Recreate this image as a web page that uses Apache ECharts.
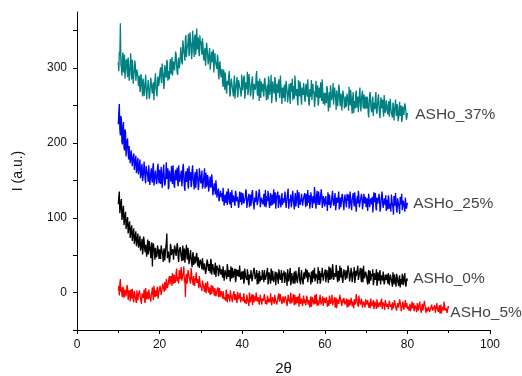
<!DOCTYPE html>
<html>
<head>
<meta charset="utf-8">
<script src="https://cdn.jsdelivr.net/npm/echarts@6/dist/echarts.min.js"></script>
<style>
  html, body { margin: 0; padding: 0; background: #fff; }
  #chart { width: 522px; height: 376px; }
</style>
</head>
<body>
<div id="chart"></div>
<script>
// scan grid: 2-theta from 10 deg. "even" readings every 0.25 deg,
// "odd" readings sit halfway between them (10.125, 10.375, ...)
const scanStart = 10;
const scanStep = 0.25;

// ASHo_37% (10 - 80)
const asho37 = [
  308, 322, 360, 301, 315, 294, 318, 299, 312, 288, 305, 296, 320, 285, 302, 291, 310, 283, 298, 289,
  281, 268, 292, 274, 286, 263, 279, 290, 270, 284, 259, 277, 288, 266, 281, 272, 293, 268, 284, 276,
  289, 301, 280, 296, 272, 304, 290, 311, 283, 298, 306, 292, 315, 288, 303, 296, 318, 294, 309, 300,
  312, 326, 305, 331, 318, 340, 315, 329, 346, 320, 335, 312, 350, 327, 341, 318, 353, 330, 322, 344,
  336, 318, 330, 310, 327, 314, 332, 305, 320, 298, 316, 308, 325, 296, 311, 302, 318, 290, 306, 295,
  292, 280, 298, 271, 286, 266, 283, 290, 262, 279, 285, 268, 281, 259, 276, 288, 266, 280, 272, 262,
  283, 268, 290, 265, 279, 295, 270, 284, 262, 277, 289, 266, 281, 274, 296, 263, 278, 286, 260, 275,
  279, 262, 287, 268, 275, 258, 283, 270, 291, 261, 276, 266, 284, 255, 272, 280, 263, 290, 268, 274,
  260, 278, 265, 285, 254, 271, 262, 280, 268, 257, 276, 290, 263, 272, 250, 269, 282, 259, 274, 264,
  271, 255, 279, 262, 268, 250, 274, 284, 258, 266, 248, 270, 261, 277, 253, 265, 281, 256, 268, 259,
  250, 267, 276, 255, 263, 247, 271, 258, 280, 252, 266, 244, 269, 261, 274, 249, 263, 255, 272, 246,
  262, 251, 268, 243, 258, 271, 249, 260, 240, 256, 266, 247, 262, 253, 274, 242, 257, 250, 265, 245,
  255, 262, 240, 251, 268, 244, 257, 236, 253, 261, 242, 250, 265, 238, 255, 246, 258, 235, 252, 244,
  250, 238, 256, 233, 246, 241, 254, 230, 247, 239, 252, 229, 244, 236, 250, 232, 245, 238, 249, 231, 240
];
const asho37Odd = [
  296, 317, 305, 290, 321, 300, 286, 309, 297, 314, 283, 301, 292, 311, 279, 296, 304, 285, 293, 276,
  290, 273, 284, 262, 280, 269, 291, 258, 275, 283, 264, 287, 271, 278, 257, 285, 274, 262, 289, 280,
  297, 284, 306, 291, 277, 299, 287, 308, 296, 285, 312, 300, 290, 309, 297, 322, 303, 291, 314, 305,
  328, 308, 337, 322, 310, 344, 325, 334, 316, 348, 331, 322, 339, 315, 345, 334, 325, 341, 316, 333,
  324, 340, 315, 322, 303, 334, 318, 311, 327, 300, 322, 313, 294, 320, 306, 299, 313, 285, 309, 288,
  299, 275, 288, 294, 270, 283, 277, 296, 265, 286, 273, 262, 290, 270, 282, 261, 284, 275, 267, 291,
  270, 287, 259, 281, 272, 264, 292, 276, 268, 285, 258, 279, 271, 290, 267, 283, 256, 272, 282, 269,
  266, 284, 273, 257, 278, 289, 264, 276, 253, 282, 270, 288, 259, 279, 267, 285, 260, 277, 252, 271,
  274, 255, 283, 269, 261, 279, 252, 275, 286, 264, 259, 281, 268, 256, 284, 262, 276, 251, 270, 280,
  258, 276, 266, 285, 253, 272, 262, 257, 279, 269, 255, 283, 264, 250, 274, 260, 270, 285, 252, 267,
  264, 253, 273, 242, 268, 277, 257, 265, 251, 274, 259, 270, 249, 278, 256, 266, 243, 270, 260, 251,
  248, 266, 256, 275, 250, 263, 239, 268, 252, 246, 270, 257, 241, 265, 250, 259, 270, 246, 255, 262,
  246, 258, 234, 265, 250, 241, 262, 254, 245, 268, 239, 259, 249, 233, 261, 252, 242, 264, 240, 257,
  243, 251, 235, 259, 240, 234, 251, 244, 258, 236, 248, 233, 255, 241, 228, 249, 237, 253, 242, 234
];

// ASHo_25% (10 - 80)
const asho25 = [
  225, 252, 210, 232, 198, 228, 190, 215, 184, 206, 178, 198, 175, 192, 170, 186, 166, 183, 163, 180,
  160, 178, 157, 172, 154, 175, 151, 169, 160, 148, 171, 152, 166, 147, 173, 150, 163, 145, 168, 152,
  164, 145, 160, 149, 171, 143, 158, 152, 166, 141, 162, 148, 156, 170, 144, 159, 150, 167, 142, 157,
  146, 163, 150, 172, 141, 158, 148, 166, 139, 155, 161, 144, 170, 147, 157, 140, 165, 151, 143, 160,
  146, 163, 142, 157, 139, 160, 145, 152, 137, 155, 143, 150, 135, 146, 131, 142, 128, 139, 125, 136,
  133, 122, 138, 127, 120, 135, 124, 131, 118, 129, 137, 121, 127, 116, 133, 124, 130, 119, 126, 134,
  121, 130, 117, 128, 135, 119, 126, 114, 131, 123, 137, 118, 127, 121, 133, 115, 125, 130, 120, 128,
  118, 132, 123, 114, 129, 136, 120, 126, 116, 131, 124, 119, 134, 121, 127, 113, 130, 122, 128, 117,
  126, 119, 133, 121, 128, 112, 125, 131, 118, 136, 122, 127, 115, 129, 120, 134, 117, 124, 130, 114,
  127, 121, 132, 116, 125, 130, 119, 128, 113, 126, 141, 118, 129, 123, 135, 117, 124, 131, 120, 126,
  115, 129, 121, 134, 117, 126, 112, 130, 123, 119, 133, 116, 125, 128, 111, 127, 120, 132, 118, 124,
  129, 114, 123, 131, 118, 126, 110, 128, 121, 134, 116, 124, 119, 130, 113, 125, 127, 117, 132, 120,
  114, 126, 119, 131, 112, 123, 128, 116, 121, 133, 110, 125, 118, 127, 113, 129, 120, 115, 124, 130,
  117, 111, 126, 119, 108, 124, 114, 129, 116, 121, 107, 125, 113, 128, 118, 110, 123, 115, 127, 112, 120
];
const asho25Odd = [
  240, 218, 236, 201, 222, 194, 218, 182, 203, 187, 196, 173, 190, 169, 183, 164, 178, 160, 175, 158,
  171, 153, 167, 149, 162, 177, 146, 164, 155, 170, 144, 161, 151, 168, 143, 158, 164, 149, 172, 146,
  151, 168, 140, 162, 154, 146, 174, 150, 138, 163, 153, 169, 145, 157, 140, 164, 153, 147, 170, 148,
  158, 142, 167, 153, 136, 162, 155, 143, 169, 150, 141, 164, 152, 138, 161, 148, 158, 137, 166, 150,
  155, 139, 151, 166, 146, 141, 157, 135, 149, 140, 158, 130, 141, 137, 150, 127, 136, 122, 132, 128,
  126, 140, 116, 131, 125, 117, 139, 121, 134, 113, 125, 130, 119, 136, 122, 128, 113, 135, 121, 117,
  133, 119, 124, 138, 113, 125, 132, 120, 116, 134, 122, 111, 129, 136, 117, 124, 138, 114, 127, 121,
  125, 115, 137, 119, 122, 130, 113, 133, 124, 117, 138, 126, 112, 129, 135, 119, 124, 114, 133, 126,
  120, 135, 113, 127, 139, 118, 122, 114, 129, 124, 111, 133, 122, 137, 113, 126, 121, 132, 116, 127,
  133, 114, 125, 137, 120, 112, 134, 122, 129, 119, 131, 112, 136, 117, 127, 122, 138, 113, 129, 118,
  126, 118, 109, 127, 131, 113, 121, 136, 116, 128, 110, 127, 120, 135, 118, 114, 129, 123, 110, 131,
  119, 132, 125, 112, 135, 116, 124, 133, 115, 125, 108, 129, 136, 114, 123, 132, 111, 126, 119, 128,
  122, 109, 132, 114, 126, 118, 107, 134, 124, 113, 127, 119, 132, 108, 122, 135, 113, 126, 117, 109,
  124, 130, 112, 114, 131, 117, 104, 122, 133, 110, 126, 118, 105, 121, 132, 115, 125, 108, 119, 114
];

// ASHo_0% (10 - 80)
const asho0 = [
  118, 135, 112, 125, 103, 116, 96, 108, 90, 101, 84, 95, 78, 90, 74, 86, 70, 82, 67, 79,
  63, 76, 60, 72, 57, 70, 54, 66, 62, 51, 69, 55, 64, 35, 66, 53, 60, 47, 63, 52,
  58, 45, 64, 50, 56, 43, 61, 79, 48, 57, 44, 62, 51, 55, 42, 60, 49, 66, 46, 56,
  61, 47, 55, 43, 59, 50, 64, 44, 52, 40, 57, 46, 51, 37, 48, 42, 53, 35, 45, 40,
  43, 31, 47, 35, 40, 28, 44, 33, 38, 26, 42, 31, 36, 24, 40, 29, 34, 22, 37, 27,
  31, 20, 36, 24, 29, 18, 33, 26, 22, 35, 19, 28, 24, 32, 17, 27, 30, 21, 34, 23,
  18, 29, 15, 25, 21, 31, 14, 24, 19, 28, 13, 23, 27, 16, 30, 20, 12, 26, 22, 17,
  25, 14, 29, 19, 23, 11, 27, 18, 32, 16, 22, 13, 28, 20, 24, 12, 26, 17, 30, 15,
  23, 13, 27, 18, 31, 15, 21, 10, 26, 19, 24, 12, 29, 16, 22, 34, 14, 25, 18, 11,
  27, 16, 23, 30, 13, 25, 19, 28, 14, 22, 33, 17, 26, 12, 24, 29, 15, 21, 31, 18,
  26, 14, 30, 20, 35, 17, 28, 22, 32, 15, 25, 37, 19, 29, 16, 27, 33, 18, 24, 30,
  17, 28, 21, 34, 15, 26, 31, 19, 24, 13, 29, 22, 36, 16, 27, 20, 32, 14, 25, 23,
  28, 15, 24, 12, 29, 18, 22, 10, 26, 17, 31, 13, 21, 25, 11, 23, 16, 27, 14, 20,
  24, 12, 19, 9, 23, 15, 27, 11, 18, 8, 22, 14, 20, 7, 17, 25, 10, 21, 13, 9, 16
];
const asho0Odd = [
  128, 106, 121, 97, 112, 90, 104, 85, 97, 79, 92, 73, 86, 69, 81, 65, 77, 62, 74, 60,
  70, 56, 66, 51, 75, 59, 64, 48, 71, 57, 60, 46, 67, 54, 59, 44, 62, 50, 58, 45,
  48, 63, 54, 41, 59, 52, 67, 46, 55, 40, 65, 50, 58, 44, 63, 53, 47, 61, 41, 58,
  52, 42, 63, 49, 40, 56, 47, 60, 38, 50, 45, 34, 54, 43, 39, 50, 41, 47, 33, 44,
  37, 46, 30, 39, 25, 37, 41, 29, 35, 45, 24, 38, 29, 33, 21, 36, 31, 26, 39, 24,
  27, 35, 16, 30, 22, 38, 21, 30, 15, 27, 33, 20, 29, 14, 31, 22, 26, 36, 17, 28,
  24, 12, 32, 20, 17, 26, 10, 22, 30, 15, 25, 33, 18, 24, 11, 26, 29, 15, 22, 30,
  20, 30, 17, 24, 33, 15, 23, 12, 26, 29, 14, 21, 10, 27, 17, 31, 20, 24, 13, 26,
  29, 16, 22, 9, 24, 20, 33, 14, 21, 12, 28, 18, 23, 13, 27, 19, 11, 30, 15, 24,
  18, 32, 20, 14, 27, 22, 11, 24, 30, 19, 15, 25, 20, 34, 17, 12, 26, 33, 16, 25,
  31, 20, 25, 13, 27, 33, 18, 38, 17, 26, 21, 30, 14, 24, 36, 20, 25, 13, 31, 22,
  30, 19, 36, 26, 20, 33, 14, 28, 34, 18, 22, 31, 17, 25, 33, 14, 26, 36, 19, 28,
  22, 11, 30, 21, 16, 25, 31, 14, 20, 24, 9, 27, 16, 30, 18, 21, 28, 11, 24, 17,
  18, 26, 10, 24, 17, 8, 20, 24, 13, 25, 16, 9, 23, 18, 11, 22, 15, 26, 8, 19
];

// ASHo_5% (10 - 90)
const asho5 = [
  3, -4, 18, 7, -6, 5, -9, 2, -3, 6, -11, -1, 4, -8, -2, -13, 1, -7, 3, -10,
  -5, 2, -12, -1, -7, 4, -14, -3, 1, -9, 5, -6, -2, 7, -10, 0, 3, -5, 8, -3,
  2, 10, -1, 12, 5, 14, 3, 16, 8, 19, 11, 22, 9, 17, 24, 13, 27, 15, 21, 30,
  18, 34, 20, 27, 14, -6, 25, 16, 31, 19, 12, 26, 15, 22, 9, 20, 13, 18, 6, 15,
  11, 2, 14, 5, 9, -1, 12, 3, 7, -3, 10, 0, 5, -4, 8, -2, 4, -6, 6, -3,
  -1, -8, 3, -6, -11, 0, -7, -3, -12, 1, -9, -4, 2, -10, -5, -14, -2, -8, 0, -11,
  -5, -12, -2, -9, -15, -4, -10, 0, -13, -6, -17, -3, -8, -11, -1, -14, -7, -10, -4, -16,
  -6, -12, -3, -10, -16, -5, -8, -13, 0, -11, -7, -15, -4, -9, -18, -6, -12, -2, -10, -14,
  -7, -13, -4, -11, -17, -6, -9, 0, -14, -8, -12, -3, -16, -10, -5, -19, -9, -13, -6, -11,
  -14, -7, -12, -3, -16, -9, -11, -19, -6, -13, -8, -15, -2, -10, -17, -7, -12, -14, -5, -11,
  -9, -16, -6, -13, -18, -8, -12, -3, -15, -10, -20, -7, -14, -11, -17, -5, -13, -9, -16, -12,
  -16, -8, -14, -19, -10, -15, -6, -12, -21, -11, -17, -9, -14, -4, -13, -18, -10, -15, -12, -20,
  -12, -18, -9, -16, -21, -13, -17, -10, -19, -14, -22, -11, -16, -13, -20, -8, -17, -15, -23, -12,
  -19, -14, -21, -12, -18, -24, -15, -20, -11, -17, -22, -16, -19, -13, -25, -18, -15, -21, -10, -17,
  -22, -16, -20, -25, -18, -21, -14, -23, -19, -26, -17, -20, -12, -22, -18, -24, -21, -16, -27, -19,
  -23, -18, -25, -20, -15, -24, -22, -27, -19, -21, -26, -17, -23, -28, -20, -24, -18, -26, -22, -25, -21
];
const asho5Odd = [
  9, 12, 1, -3, 8, -7, 4, -5, 10, -10, 3, -12, -2, 5, -9, 2, -6, -14, 4, -3,
  3, -8, -15, 1, -4, -11, 6, -9, -1, 4, -6, -12, 1, -3, 9, -6, -2, 5, -8, 2,
  9, -3, 6, 13, 1, 10, 18, 6, 13, 22, 10, 17, 26, 12, 20, 16, 32, 18, 12, 25,
  28, 16, 24, 35, 19, 22, 12, 30, 22, 15, 33, 18, 10, 24, 17, 27, 11, 16, 22, 9,
  6, 16, 9, 1, 13, 7, 15, 0, 9, 4, -2, 9, 1, 6, -5, 3, 7, -1, -6, 2,
  -4, 2, -9, -5, 4, -13, -2, -8, 3, -6, -13, -1, -7, -2, -11, 1, -9, -4, -13, -6,
  -9, -1, -14, -7, -3, -11, -18, -5, -9, -2, -10, -13, -5, 0, -12, -6, -16, -3, -12, -8,
  -11, -2, -15, -8, -4, -13, -10, -1, -17, -6, -12, -3, -11, -16, -7, -1, -13, -9, -15, -5,
  -14, -5, -9, -18, -3, -12, -15, -7, -11, -2, -17, -9, -6, -14, -10, -1, -15, -8, -18, -4,
  -9, -17, -4, -13, -10, -20, -5, -14, -9, -16, -3, -12, -18, -8, -13, -3, -16, -9, -18, -7,
  -14, -6, -19, -10, -4, -15, -9, -17, -12, -6, -14, -21, -9, -15, -3, -11, -18, -14, -7, -16,
  -11, -20, -9, -14, -17, -7, -18, -13, -9, -16, -2, -14, -19, -10, -16, -8, -20, -12, -17, -9,
  -16, -10, -20, -13, -8, -18, -14, -22, -12, -17, -9, -20, -14, -19, -11, -22, -13, -18, -10, -16,
  -15, -22, -11, -19, -16, -13, -21, -10, -18, -24, -14, -20, -9, -17, -21, -12, -23, -16, -20, -14,
  -18, -24, -15, -21, -12, -19, -25, -17, -22, -14, -24, -16, -21, -27, -15, -19, -11, -23, -20, -25,
  -19, -26, -21, -16, -24, -20, -17, -25, -14, -23, -20, -28, -16, -22, -19, -12, -24, -21, -27, -18
];

// curve names and where their labels sit (data coords)
const names = ["ASHo_0%", "ASHo_5%", "ASHo_25%", "ASHo_37%"];
const colors = ["#000000", "#ff0000", "#0000ff", "#008080"];
const labelX = [81.4, 90.4, 81.4, 81.9];
const labelY = [18, -26.5, 119, 238];

const xTicks = [0, 20, 40, 60, 80, 100];
const yLabelTicks = [0, 100, 200, 300];
const yTicks = [-50, 0, 50, 100, 150, 200, 250, 300, 350];

// merge the even and odd readings into one [2theta, I] list
const toPairs = (even, odd) => {
  const out = [];
  even.forEach((v, i) => {
    out.push([scanStart + i * scanStep, v]);
    if (i < odd.length) out.push([scanStart + (i + 0.5) * scanStep, odd[i]]);
  });
  return out;
};

const chart = echarts.init(document.getElementById("chart"));

const font = "Liberation Sans, Arial, sans-serif";

const scans = [[asho0, asho0Odd], [asho5, asho5Odd], [asho25, asho25Odd], [asho37, asho37Odd]];

const lineSeries = scans.map(([even, odd], i) => ({
  name: names[i],
  type: "line",
  data: toPairs(even, odd),
  showSymbol: false,
  symbol: "none",
  animation: false,
  silent: true,
  lineStyle: { width: 1.3, color: colors[i] },
  z: 2,
}));

const labelSeries = {
  type: "scatter",
  symbolSize: 0,
  silent: true,
  animation: false,
  data: names.map((n, i) => ({ value: [labelX[i], labelY[i]], name: n })),
  label: {
    show: true,
    position: "right",
    distance: 0,
    formatter: (p) => p.name,
    fontFamily: font,
    fontSize: 15.5,
    color: "#111",
  },
  z: 3,
};

chart.setOption({
  animation: false,
  grid: { left: 77, right: 32, top: 12, bottom: 46, containLabel: false, outerBoundsMode: "none" },
  xAxis: {
    type: "value",
    min: 0,
    max: 100,
    interval: 20,
    name: "2θ",
    nameLocation: "middle",
    nameGap: 31,
    nameTextStyle: { fontFamily: font, fontSize: 15, color: "#111" },
    axisLine: { show: true, onZero: false, lineStyle: { color: "#000", width: 1 } },
    axisTick: { show: true, inside: false, length: 4, lineStyle: { color: "#000" } },
    minorTick: { show: true, splitNumber: 2, length: 3, lineStyle: { color: "#000" } },
    splitLine: { show: false },
    axisLabel: { margin: 9, fontFamily: font, fontSize: 12, color: "#111",
      customValues: xTicks },
  },
  yAxis: {
    type: "value",
    min: -50,
    max: 375,
    name: "I (a.u.)",
    nameLocation: "middle",
    nameGap: 52,
    nameRotate: 90,
    nameTextStyle: { fontFamily: font, fontSize: 14, color: "#111" },
    axisLine: { show: true, onZero: false, lineStyle: { color: "#000", width: 1 } },
    axisTick: { show: true, inside: false, length: 4, lineStyle: { color: "#000" },
      customValues: yTicks },
    splitLine: { show: false },
    axisLabel: { margin: 10, fontFamily: font, fontSize: 12, color: "#111",
      customValues: yLabelTicks },
  },
  series: [...lineSeries, labelSeries],
});
</script>
</body>
</html>
